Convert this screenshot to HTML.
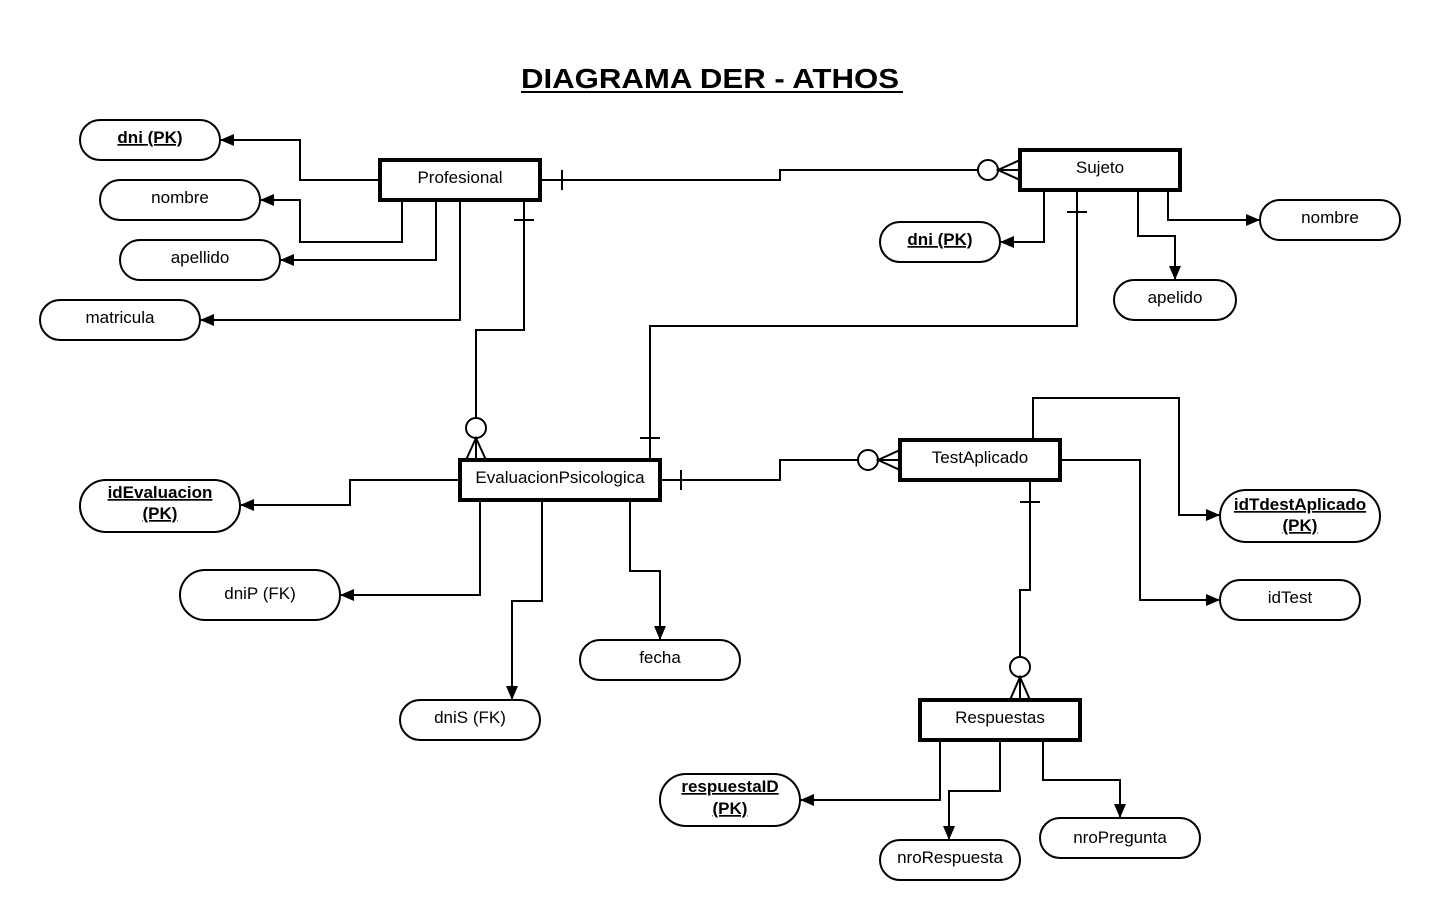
<!DOCTYPE html>
<html><head><meta charset="utf-8"><style>
html,body{margin:0;padding:0;background:#fff;width:1440px;height:920px;overflow:hidden}
text{font-family:"Liberation Sans",Arial,sans-serif;fill:#000}
</style></head><body>
<svg width="1440" height="920" viewBox="0 0 1440 920" xmlns="http://www.w3.org/2000/svg">
<defs><marker id="a" markerWidth="14" markerHeight="12" refX="13" refY="6" orient="auto" markerUnits="userSpaceOnUse"><path d="M0,0 L14,6 L0,12 z" fill="#000"/></marker></defs>
<text x="521" y="88" font-size="28" font-weight="bold" textLength="378" lengthAdjust="spacingAndGlyphs">DIAGRAMA DER - ATHOS</text>
<line x1="521" y1="92" x2="903" y2="92" stroke="#000" stroke-width="2"/>
<g fill="none" stroke="#000" stroke-width="2">
<polyline points="380,180 300,180 300,140 221,140" marker-end="url(#a)"/>
<polyline points="402,200 402,242 300,242 300,200 261,200" marker-end="url(#a)"/>
<polyline points="436,200 436,260 281,260" marker-end="url(#a)"/>
<polyline points="460,200 460,320 201,320" marker-end="url(#a)"/>
<polyline points="524,200 524,330 476,330 476,418"/>
<line x1="514" y1="220" x2="534" y2="220"/>
<circle cx="476" cy="428" r="10" fill="#fff"/>
<polyline points="466,460 476,438 486,460"/><line x1="476" y1="438" x2="476" y2="460"/>
<polyline points="540,180 780,180 780,170 978,170"/>
<line x1="562" y1="170" x2="562" y2="190"/>
<circle cx="988" cy="170" r="10" fill="#fff"/>
<polyline points="1020,160 998,170 1020,180"/><line x1="998" y1="170" x2="1020" y2="170"/>
<polyline points="1044,190 1044,242 1001,242" marker-end="url(#a)"/>
<polyline points="1138,190 1138,236 1175,236 1175,279" marker-end="url(#a)"/>
<polyline points="1168,190 1168,220 1259,220" marker-end="url(#a)"/>
<polyline points="1077,190 1077,326 650,326 650,460"/>
<line x1="1067" y1="212" x2="1087" y2="212"/>
<line x1="640" y1="438" x2="660" y2="438"/>
<polyline points="460,480 350,480 350,505 241,505" marker-end="url(#a)"/>
<polyline points="480,500 480,595 341,595" marker-end="url(#a)"/>
<polyline points="542,500 542,601 512,601 512,699" marker-end="url(#a)"/>
<polyline points="630,500 630,571 660,571 660,639" marker-end="url(#a)"/>
<polyline points="660,480 780,480 780,460 858,460"/>
<line x1="681" y1="470" x2="681" y2="490"/>
<circle cx="868" cy="460" r="10" fill="#fff"/>
<polyline points="900,450 878,460 900,470"/><line x1="878" y1="460" x2="900" y2="460"/>
<polyline points="1033,440 1033,398 1179,398 1179,515 1219,515" marker-end="url(#a)"/>
<polyline points="1060,460 1140,460 1140,600 1219,600" marker-end="url(#a)"/>
<polyline points="1030,480 1030,590 1020,590 1020,657"/>
<line x1="1020" y1="502" x2="1040" y2="502"/>
<circle cx="1020" cy="667" r="10" fill="#fff"/>
<polyline points="1010,700 1020,677 1030,700"/><line x1="1020" y1="677" x2="1020" y2="700"/>
<polyline points="940,740 940,800 801,800" marker-end="url(#a)"/>
<polyline points="1000,740 1000,791 949,791 949,839" marker-end="url(#a)"/>
<polyline points="1043,740 1043,780 1120,780 1120,817" marker-end="url(#a)"/>
</g>
<g fill="#fff" stroke="#000" stroke-width="4">
<rect x="380" y="160" width="160" height="40"/>
<rect x="1020" y="150" width="160" height="40"/>
<rect x="460" y="460" width="200" height="40"/>
<rect x="900" y="440" width="160" height="40"/>
<rect x="920" y="700" width="160" height="40"/>
</g>
<g font-size="17" text-anchor="middle">
<text x="460" y="183">Profesional</text>
<text x="1100" y="173">Sujeto</text>
<text x="560" y="483">EvaluacionPsicologica</text>
<text x="980" y="463">TestAplicado</text>
<text x="1000" y="723">Respuestas</text>
</g>
<g fill="#fff" stroke="#000" stroke-width="2">
<rect x="80" y="120" width="140" height="40" rx="20"/>
<rect x="100" y="180" width="160" height="40" rx="20"/>
<rect x="120" y="240" width="160" height="40" rx="20"/>
<rect x="40" y="300" width="160" height="40" rx="20"/>
<rect x="880" y="222" width="120" height="40" rx="20"/>
<rect x="1260" y="200" width="140" height="40" rx="20"/>
<rect x="1114" y="280" width="122" height="40" rx="20"/>
<rect x="80" y="480" width="160" height="52" rx="26"/>
<rect x="180" y="570" width="160" height="50" rx="25"/>
<rect x="400" y="700" width="140" height="40" rx="20"/>
<rect x="580" y="640" width="160" height="40" rx="20"/>
<rect x="1220" y="490" width="160" height="52" rx="26"/>
<rect x="1220" y="580" width="140" height="40" rx="20"/>
<rect x="660" y="774" width="140" height="52" rx="26"/>
<rect x="880" y="840" width="140" height="40" rx="20"/>
<rect x="1040" y="818" width="160" height="40" rx="20"/>
</g>
<g font-size="17" text-anchor="middle">
<text x="150" y="143" font-weight="bold" text-decoration="underline">dni (PK)</text>
<text x="180" y="203">nombre</text>
<text x="200" y="263">apellido</text>
<text x="120" y="323">matricula</text>
<text x="940" y="245" font-weight="bold" text-decoration="underline">dni (PK)</text>
<text x="1330" y="223">nombre</text>
<text x="1175" y="303">apelido</text>
<text x="160" y="498" font-weight="bold" text-decoration="underline">idEvaluacion</text>
<text x="160" y="519" font-weight="bold" text-decoration="underline">(PK)</text>
<text x="260" y="599">dniP (FK)</text>
<text x="470" y="723">dniS (FK)</text>
<text x="660" y="663">fecha</text>
<text x="1300" y="510" font-weight="bold" text-decoration="underline">idTdestAplicado</text>
<text x="1300" y="531" font-weight="bold" text-decoration="underline">(PK)</text>
<text x="1290" y="603">idTest</text>
<text x="730" y="792" font-weight="bold" text-decoration="underline">respuestaID</text>
<text x="730" y="814" font-weight="bold" text-decoration="underline">(PK)</text>
<text x="950" y="863">nroRespuesta</text>
<text x="1120" y="843">nroPregunta</text>
</g>
</svg>
</body></html>
